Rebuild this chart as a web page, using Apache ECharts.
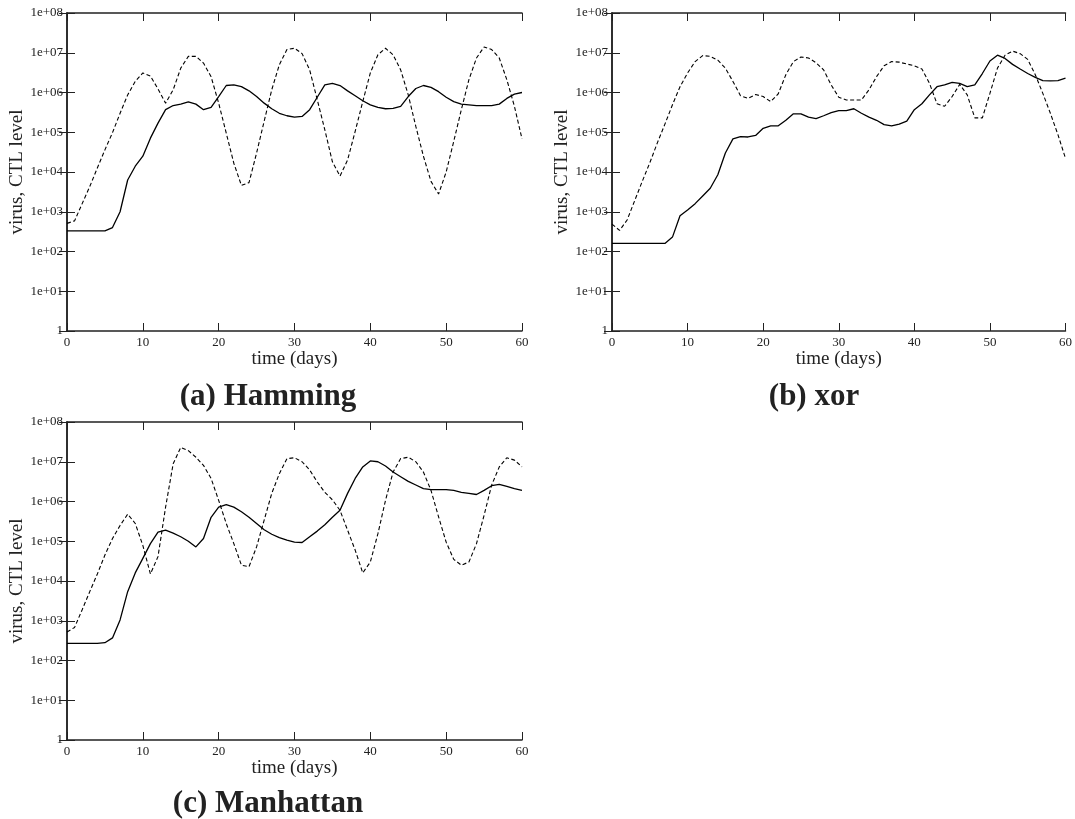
<!DOCTYPE html>
<html><head><meta charset="utf-8">
<script src="https://cdn.jsdelivr.net/npm/echarts@6/dist/echarts.min.js"></script>
<style>html,body{margin:0;padding:0;background:#fff}#c{width:1075px;height:819px}</style>
</head><body><div id="c"></div><script>
// ---- data ----
const DAYS = [0,1,2,3,4,5,6,7,8,9,10,11,12,13,14,15,16,17,18,19,20,21,22,23,24,25,26,27,28,29,30,31,32,33,34,35,36,37,38,39,40,41,42,43,44,45,46,47,48,49,50,51,52,53,54,55,56,57,58,59,60];
const X_TICKS = [0,10,20,30,40,50,60];
const PANEL_TITLES = ['(a) Hamming', '(b) xor', '(c) Manhattan'];
const X_NAME = 'time (days)';
const Y_NAME = 'virus, CTL level';

// Hamming: solid (CTL) and dashed (virus)
const HAMMING_SOLID = [3.3e2,3.3e2,3.3e2,3.3e2,3.3e2,3.3e2,4.0e2,1.0e3,6.3e3,1.4e4,2.5e4,7.1e4,1.7e5,3.7e5,4.7e5,5.1e5,5.8e5,5.1e5,3.7e5,4.2e5,7.9e5,1.5e6,1.55e6,1.4e6,1.1e6,7.9e5,5.4e5,3.9e5,3.0e5,2.6e5,2.4e5,2.5e5,3.7e5,7.6e5,1.55e6,1.7e6,1.5e6,1.1e6,8.3e5,6.2e5,4.9e5,4.2e5,3.9e5,4.0e5,4.5e5,7.9e5,1.26e6,1.5e6,1.35e6,1.05e6,7.6e5,5.9e5,5.1e5,4.9e5,4.7e5,4.7e5,4.7e5,5.1e5,7.1e5,9.1e5,1.0e6];
const HAMMING_DASH = [5.1e2,5.9e2,1.6e3,4.3e3,1.26e4,3.6e4,9.8e4,3.0e5,8.7e5,1.9e6,3.1e6,2.6e6,1.23e6,5.4e5,1.17e6,4.1e6,8.1e6,8.1e6,5.5e6,2.5e6,5.4e5,9.5e4,1.66e4,4.6e3,5.4e3,3.0e4,1.9e5,1.17e6,5.0e6,1.2e7,1.3e7,9.5e6,3.7e6,6.6e5,1.15e5,1.8e4,7.9e3,2.0e4,1.05e5,5.9e5,3.1e6,8.9e6,1.3e7,8.9e6,3.7e6,8.7e5,1.4e5,2.5e4,5.8e3,2.8e3,1.0e4,5.9e4,3.7e5,2.1e6,7.4e6,1.4e7,1.2e7,7.4e6,2.1e6,4.5e5,6.8e4];
// xor
const XOR_SOLID = [1.6e2,1.6e2,1.6e2,1.6e2,1.6e2,1.6e2,1.6e2,1.6e2,2.3e2,7.9e2,1.1e3,1.6e3,2.5e3,3.9e3,8.5e3,3.0e4,6.8e4,7.8e4,7.6e4,8.3e4,1.26e5,1.45e5,1.45e5,2.0e5,2.9e5,2.9e5,2.4e5,2.2e5,2.6e5,3.1e5,3.5e5,3.5e5,3.9e5,3.0e5,2.4e5,2.0e5,1.55e5,1.45e5,1.6e5,1.9e5,3.7e5,5.2e5,8.7e5,1.4e6,1.55e6,1.8e6,1.7e6,1.4e6,1.55e6,3.0e6,6.2e6,8.7e6,7.2e6,5.1e6,3.9e6,3.0e6,2.4e6,2.0e6,1.95e6,2.0e6,2.3e6];
const XOR_DASH = [4.9e2,3.4e2,6.2e2,1.9e3,5.8e3,1.7e4,5.4e4,1.6e5,4.9e5,1.4e6,3.1e6,6.0e6,8.5e6,8.1e6,6.5e6,4.1e6,1.9e6,8.3e5,7.1e5,8.9e5,7.9e5,5.9e5,9.3e5,2.8e6,6.0e6,7.8e6,7.4e6,5.6e6,3.7e6,1.55e6,7.6e5,6.5e5,6.5e5,6.5e5,1.17e6,2.5e6,4.7e6,6.0e6,5.8e6,5.2e6,4.7e6,3.9e6,1.7e6,5.2e5,4.5e5,7.9e5,1.6e6,8.7e5,2.3e5,2.3e5,9.5e5,4.1e6,8.7e6,1.1e7,9.5e6,6.8e6,2.8e6,9.5e5,3.0e5,8.7e4,2.2e4];
// Manhattan
const MANHATTAN_SOLID = [2.7e2,2.7e2,2.7e2,2.7e2,2.7e2,2.8e2,3.7e2,1.05e3,5.4e3,1.6e4,3.7e4,8.7e4,1.7e5,1.9e5,1.6e5,1.3e5,1.0e5,7.2e4,1.17e5,4.0e5,7.2e5,8.3e5,7.2e5,5.5e5,4.0e5,2.8e5,1.95e5,1.5e5,1.23e5,1.07e5,9.5e4,9.3e4,1.3e5,1.8e5,2.6e5,4.0e5,6.0e5,1.6e6,3.8e6,7.4e6,1.05e7,1.0e7,7.8e6,5.5e6,4.2e6,3.2e6,2.6e6,2.1e6,2.0e6,2.0e6,2.0e6,1.9e6,1.7e6,1.6e6,1.5e6,1.9e6,2.5e6,2.7e6,2.4e6,2.1e6,1.9e6];
const MANHATTAN_DASH = [5.2e2,6.8e2,1.9e3,5.4e3,1.5e4,4.5e4,1.17e5,2.5e5,4.8e5,2.8e5,7.9e4,1.5e4,4.1e4,7.2e5,8.9e6,2.3e7,1.9e7,1.3e7,8.1e6,3.8e6,1.07e6,2.8e5,8.7e4,2.5e4,2.3e4,7.2e4,3.4e5,1.6e6,5.0e6,1.2e7,1.26e7,1.0e7,6.2e6,3.1e6,1.7e6,1.1e6,6.0e5,1.9e5,6.0e4,1.6e4,3.0e4,1.55e5,1.07e6,5.5e6,1.2e7,1.3e7,1.0e7,5.5e6,1.9e6,4.1e5,9.5e4,3.5e4,2.5e4,3.0e4,8.7e4,4.5e5,2.6e6,7.4e6,1.26e7,1.1e7,7.4e6];

// ---- layout / style ----
const FONT = '"Liberation Serif","Times New Roman",serif';
const INK = '#222';
const PANELS = [
  {grid:{left:67,top:13,width:455,height:318}, solid:HAMMING_SOLID, dash:HAMMING_DASH, tx:268, ty:397},
  {grid:{left:612,top:13,width:455,height:318}, solid:XOR_SOLID, dash:XOR_DASH, tx:814, ty:397},
  {grid:{left:67,top:422,width:455,height:318}, solid:MANHATTAN_SOLID, dash:MANHATTAN_DASH, tx:268, ty:804}
];
function yLabel(v){
  if (v <= 1.0001) return '1';
  const e = Math.round(Math.log10(v));
  return '1e+' + (e < 10 ? '0' + e : String(e));
}
const grid = [], xAxis = [], yAxis = [], series = [], graphic = [];
PANELS.forEach((p, i) => {
  grid.push(Object.assign({containLabel:false}, p.grid));
  const axLine = {show:true, lineStyle:{color:INK, width:1.5}};
  const tick = {show:true, inside:true, length:8, lineStyle:{color:INK, width:1}};
  xAxis.push({type:'value', gridIndex:i, min:0, max:60, interval:10, position:'bottom',
    axisLine:axLine, axisTick:tick, splitLine:{show:false},
    axisLabel:{show:true, margin:5, fontFamily:FONT, fontSize:13, color:INK},
    name:X_NAME, nameLocation:'middle', nameGap:17,
    nameTextStyle:{fontFamily:FONT, fontSize:19, color:INK}});
  xAxis.push({type:'value', gridIndex:i, min:0, max:60, interval:10, position:'top',
    axisLine:axLine, axisTick:tick, splitLine:{show:false}, axisLabel:{show:false}});
  yAxis.push({type:'log', logBase:10, gridIndex:i, min:1, max:1e8, splitNumber:8, position:'left',
    axisLine:axLine, axisTick:tick, splitLine:{show:false}, minorTick:{show:false},
    axisLabel:{show:true, margin:4, fontFamily:FONT, fontSize:13, color:INK, formatter:yLabel,
      showMinLabel:true, showMaxLabel:true},
    name:Y_NAME, nameLocation:'middle', nameGap:36,
    nameTextStyle:{fontFamily:FONT, fontSize:19, color:INK}});
  yAxis.push({type:'log', logBase:10, gridIndex:i, min:1, max:1e8, splitNumber:8, position:'right',
    axisLine:axLine, axisTick:tick, splitLine:{show:false}, axisLabel:{show:false}});
  series.push({type:'line', xAxisIndex:2*i, yAxisIndex:2*i, showSymbol:false, smooth:false,
    lineStyle:{color:'#000', width:1.3}, data:DAYS.map((d,k)=>[d, p.solid[k]])});
  series.push({type:'line', xAxisIndex:2*i, yAxisIndex:2*i, showSymbol:false, smooth:false,
    lineStyle:{color:'#000', width:1.1, type:[4,2.5]}, data:DAYS.map((d,k)=>[d, p.dash[k]])});
  graphic.push({type:'text', x:p.tx, y:p.ty, style:{text:PANEL_TITLES[i], fill:INK,
    font:'bold 31px ' + FONT, textAlign:'center', textVerticalAlign:'middle'}});
});
const chart = echarts.init(document.getElementById('c'), null, {renderer:'canvas'});
chart.setOption({animation:false, backgroundColor:'#fff', grid, xAxis, yAxis, series, graphic});
</script></body></html>
